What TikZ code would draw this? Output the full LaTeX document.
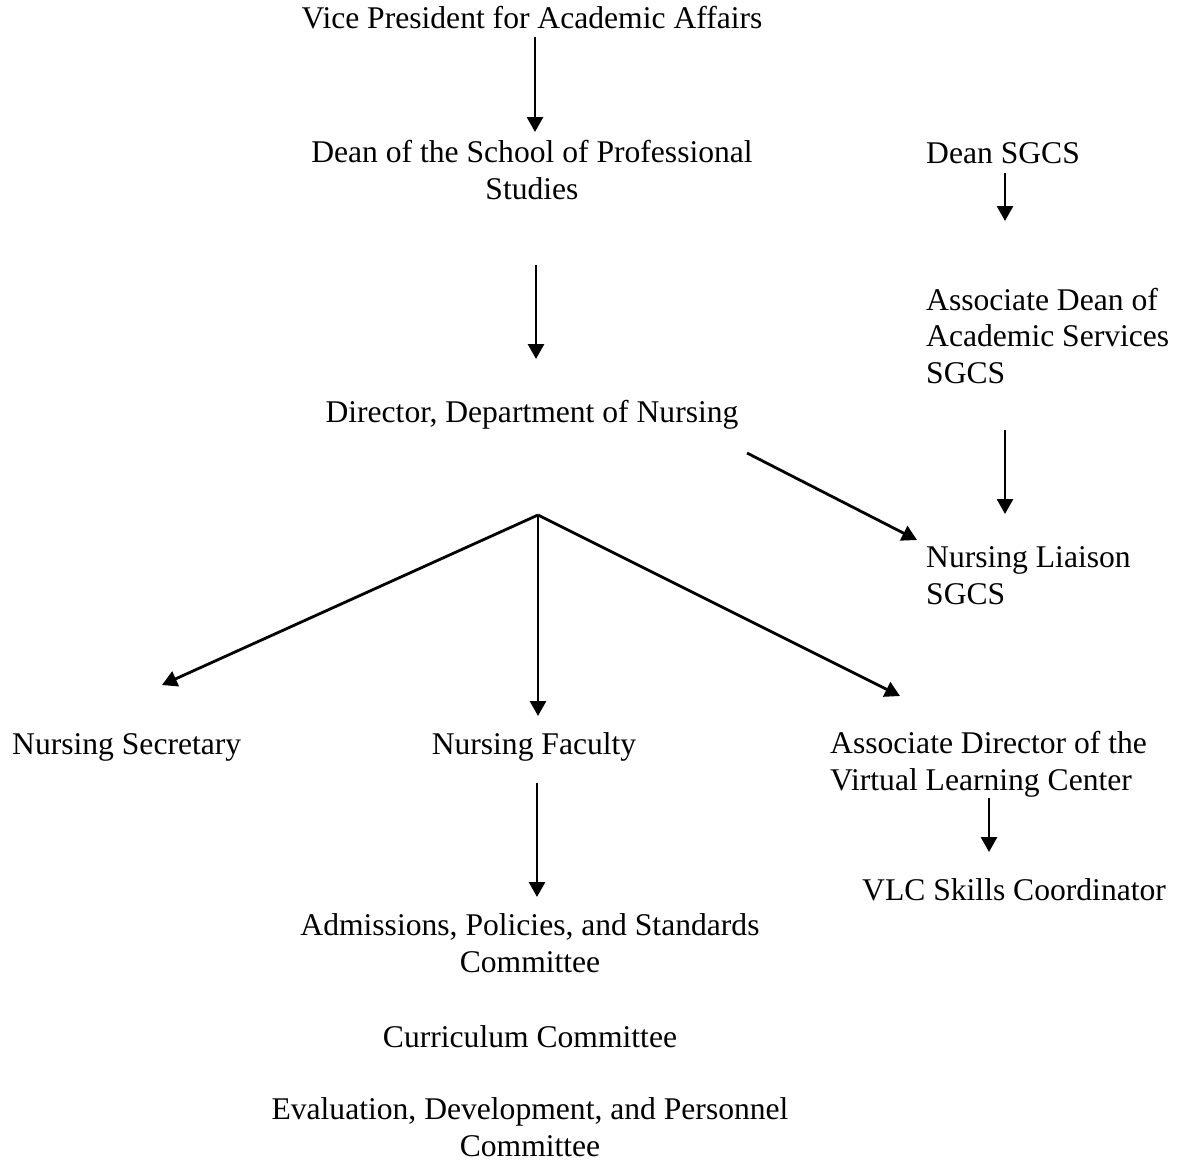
\documentclass[tikz,border=0pt]{standalone}
\usepackage{fontspec}
\setmainfont{Liberation Serif}
\usetikzlibrary{arrows.meta}
\begin{document}
\begin{tikzpicture}[x=1pt,y=-1pt,
  lbl/.style={inner sep=0pt, font=\fontsize{31.6}{36.5}\selectfont},
  arr/.style={line width=2.8pt, -{Triangle[length=15pt,width=16pt]}}]
\useasboundingbox (0,0) rectangle (1185,1162);
% labels (single-line: baseline; multi-line: baseline of last line)
\node[lbl, anchor=base] (vp) at (532,28) {Vice President for Academic Affairs};
\node[lbl, anchor=base, align=center] (dsps) at (532,199) {Dean of the School of Professional\\Studies};
\node[lbl, anchor=base] (dir) at (532,422) {Director, Department of Nursing};
\node[lbl, anchor=base west] (dsgcs) at (926,163) {Dean SGCS};
\node[lbl, anchor=base west, align=left] (adean) at (926,383) {Associate Dean of\\Academic Services\\SGCS};
\node[lbl, anchor=base west, align=left] (liaison) at (926,604) {Nursing Liaison\\SGCS};
\node[lbl, anchor=base west] (sec) at (12,754) {Nursing Secretary};
\node[lbl, anchor=base] (fac) at (534,754) {Nursing Faculty};
\node[lbl, anchor=base west, align=left] (adir) at (830,790) {Associate Director of the\\Virtual Learning Center};
\node[lbl, anchor=base west] (vlc) at (862,900) {VLC Skills Coordinator};
\node[lbl, anchor=base, align=center] (aps) at (530,972) {Admissions, Policies, and Standards\\Committee};
\node[lbl, anchor=base] (cur) at (530,1047) {Curriculum Committee};
\node[lbl, anchor=base, align=center] (edp) at (530,1156) {Evaluation, Development, and Personnel\\Committee};
% connector end points
\coordinate (vpS) at (535,37);   \coordinate (dspsN) at (535,132);
\coordinate (dspsS) at (536,265); \coordinate (dirN) at (536,359);
\coordinate (dirE) at (747,453); \coordinate (liaisonW) at (917,540);
\coordinate (dsgcsS) at (1005,173); \coordinate (adeanN) at (1005,221);
\coordinate (adeanS) at (1005,430); \coordinate (liaisonN) at (1005,514);
\coordinate (split) at (538,515);
\coordinate (secN) at (162,685); \coordinate (facN) at (538,716); \coordinate (adirN) at (900,696);
\coordinate (facS) at (537,783); \coordinate (apsN) at (537,897);
\coordinate (adirS) at (989,798); \coordinate (vlcN) at (989,852);
% connectors
\draw[arr] (vpS) -- (dspsN);
\draw[arr] (dspsS) -- (dirN);
\draw[arr] (dirE) -- (liaisonW);
\draw[arr] (dsgcsS) -- (adeanN);
\draw[arr] (adeanS) -- (liaisonN);
\draw[arr] (split) -- (secN);
\draw[arr] (split) -- (facN);
\draw[arr] (split) -- (adirN);
\draw[arr] (facS) -- (apsN);
\draw[arr] (adirS) -- (vlcN);
\end{tikzpicture}
\end{document}
